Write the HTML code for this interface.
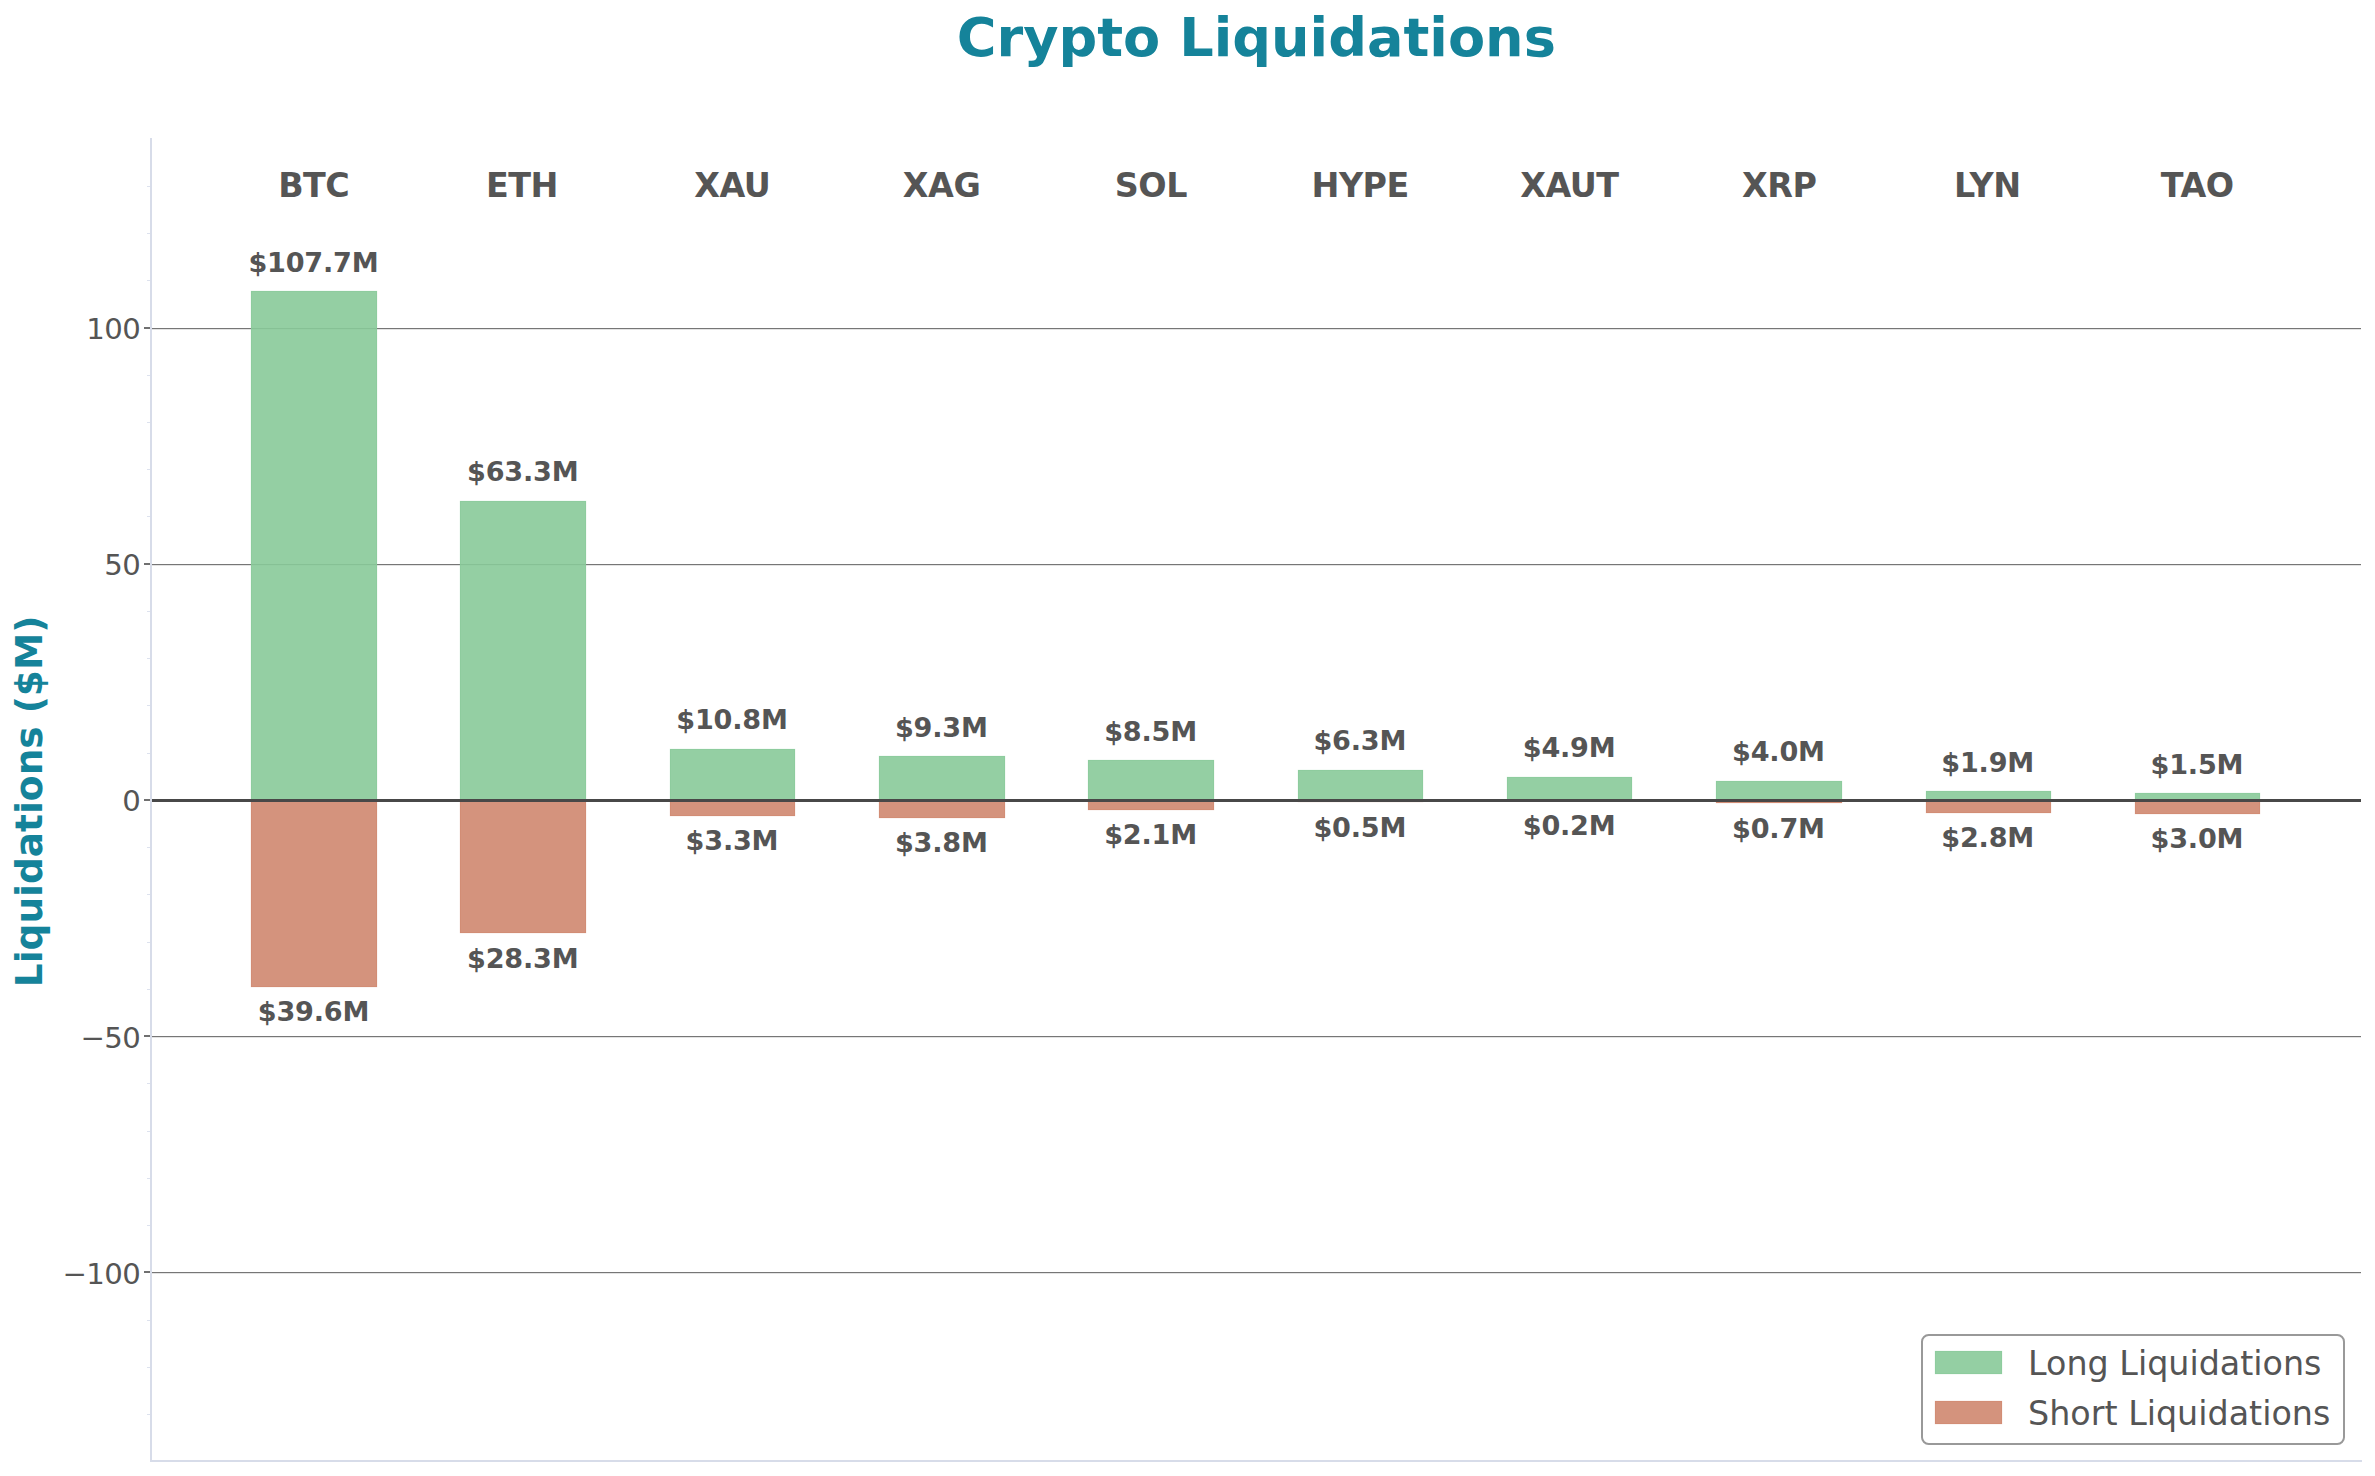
<!DOCTYPE html>
<html lang="en"><head><meta charset="utf-8"><title>Crypto Liquidations</title>
<style>html,body{margin:0;padding:0;background:#fff}body{width:2375px;height:1476px;overflow:hidden}svg{display:block}text{font-family:"DejaVu Sans","Liberation Sans",sans-serif}</style>
</head><body>
<svg width="2375" height="1476" viewBox="0 0 2375 1476">
<rect width="2375" height="1476" fill="#ffffff"/>
<g fill="#767676">
<rect x="151" y="328" width="2210" height="1.2"/>
<rect x="151" y="564" width="2210" height="1.2"/>
<rect x="151" y="1036" width="2210" height="1.2"/>
<rect x="151" y="1272" width="2210" height="1.2"/>
</g>
<g fill="#88ca99" fill-opacity="0.9">
<rect x="251" y="291" width="126" height="509"/>
<rect x="460" y="501" width="126" height="299"/>
<rect x="670" y="749" width="125" height="51"/>
<rect x="879" y="756" width="126" height="44"/>
<rect x="1088" y="760" width="126" height="40"/>
<rect x="1298" y="770" width="125" height="30"/>
<rect x="1507" y="777" width="125" height="23"/>
<rect x="1716" y="781" width="126" height="19"/>
<rect x="1926" y="791" width="125" height="9"/>
<rect x="2135" y="793" width="125" height="7"/>
</g>
<g fill="#cf876f" fill-opacity="0.9">
<rect x="251" y="800" width="126" height="187"/>
<rect x="460" y="800" width="126" height="133"/>
<rect x="670" y="800" width="125" height="16"/>
<rect x="879" y="800" width="126" height="18"/>
<rect x="1088" y="800" width="126" height="10"/>
<rect x="1298" y="800" width="125" height="2"/>
<rect x="1507" y="800" width="125" height="1"/>
<rect x="1716" y="800" width="126" height="3"/>
<rect x="1926" y="800" width="125" height="13"/>
<rect x="2135" y="800" width="125" height="14"/>
</g>
<g fill="none" stroke-width="1" stroke-opacity="0.55">
<rect x="251.35" y="291.35" width="125.30" height="508.30" stroke="#88ca99"/>
<rect x="460.35" y="501.35" width="125.30" height="298.30" stroke="#88ca99"/>
<rect x="670.35" y="749.35" width="124.30" height="50.30" stroke="#88ca99"/>
<rect x="879.35" y="756.35" width="125.30" height="43.30" stroke="#88ca99"/>
<rect x="1088.35" y="760.35" width="125.30" height="39.30" stroke="#88ca99"/>
<rect x="1298.35" y="770.35" width="124.30" height="29.30" stroke="#88ca99"/>
<rect x="1507.35" y="777.35" width="124.30" height="22.30" stroke="#88ca99"/>
<rect x="1716.35" y="781.35" width="125.30" height="18.30" stroke="#88ca99"/>
<rect x="1926.35" y="791.35" width="124.30" height="8.30" stroke="#88ca99"/>
<rect x="2135.35" y="793.35" width="124.30" height="6.30" stroke="#88ca99"/>
<rect x="251.35" y="800.35" width="125.30" height="186.30" stroke="#cf876f"/>
<rect x="460.35" y="800.35" width="125.30" height="132.30" stroke="#cf876f"/>
<rect x="670.35" y="800.35" width="124.30" height="15.30" stroke="#cf876f"/>
<rect x="879.35" y="800.35" width="125.30" height="17.30" stroke="#cf876f"/>
<rect x="1088.35" y="800.35" width="125.30" height="9.30" stroke="#cf876f"/>
<rect x="1298.35" y="800.35" width="124.30" height="1.30" stroke="#cf876f"/>
<rect x="1716.35" y="800.35" width="125.30" height="2.30" stroke="#cf876f"/>
<rect x="1926.35" y="800.35" width="124.30" height="12.30" stroke="#cf876f"/>
<rect x="2135.35" y="800.35" width="124.30" height="13.30" stroke="#cf876f"/>
</g>
<rect x="151" y="799" width="2210" height="3" fill="#484848"/>
<g fill="#dde2ee">
<rect x="147" y="1414" width="3" height="1"/>
<rect x="147" y="1367" width="3" height="1"/>
<rect x="147" y="1320" width="3" height="1"/>
<rect x="147" y="1225" width="3" height="1"/>
<rect x="147" y="1178" width="3" height="1"/>
<rect x="147" y="1131" width="3" height="1"/>
<rect x="147" y="1083" width="3" height="1"/>
<rect x="147" y="989" width="3" height="1"/>
<rect x="147" y="942" width="3" height="1"/>
<rect x="147" y="894" width="3" height="1"/>
<rect x="147" y="847" width="3" height="1"/>
<rect x="147" y="753" width="3" height="1"/>
<rect x="147" y="705" width="3" height="1"/>
<rect x="147" y="658" width="3" height="1"/>
<rect x="147" y="611" width="3" height="1"/>
<rect x="147" y="516" width="3" height="1"/>
<rect x="147" y="469" width="3" height="1"/>
<rect x="147" y="422" width="3" height="1"/>
<rect x="147" y="375" width="3" height="1"/>
<rect x="147" y="280" width="3" height="1"/>
<rect x="147" y="233" width="3" height="1"/>
<rect x="147" y="186" width="3" height="1"/>
</g>
<g fill="#707070">
<rect x="144" y="327" width="6.5" height="2"/>
<rect x="144" y="563" width="6.5" height="2"/>
<rect x="144" y="799" width="6.5" height="2"/>
<rect x="144" y="1035" width="6.5" height="2"/>
<rect x="144" y="1271" width="6.5" height="2"/>
</g>
<g fill="#d7dce9">
<rect x="150" y="138" width="2" height="1324"/>
<rect x="150" y="1460" width="2212" height="2"/>
</g>
<g fill="#555555" font-size="29.17" text-anchor="end" letter-spacing="-0.56">
<text x="140.3" y="339.00">100</text>
<text x="140.3" y="575.00">50</text>
<text x="140.3" y="811.00">0</text>
<text x="140.3" y="1048.00">−50</text>
<text x="140.3" y="1284.00">−100</text>
</g>
<text x="1256.3" y="56.2" fill="#15839a" font-size="54.17" font-weight="bold" text-anchor="middle">Crypto Liquidations</text>
<text transform="translate(42,801.4) rotate(-90)" fill="#15839a" font-size="37.5" font-weight="bold" text-anchor="middle">Liquidations ($M)</text>
<g fill="#555555" font-size="33.33" font-weight="bold" text-anchor="middle" letter-spacing="-0.47">
<text x="313.74" y="197">BTC</text>
<text x="522.02" y="197">ETH</text>
<text x="732.30" y="197">XAU</text>
<text x="941.58" y="197">XAG</text>
<text x="1150.86" y="197">SOL</text>
<text x="1360.14" y="197">HYPE</text>
<text x="1569.42" y="197">XAUT</text>
<text x="1779.20" y="197">XRP</text>
<text x="1987.28" y="197">LYN</text>
<text x="2197.26" y="197">TAO</text>
</g>
<g fill="#555555" font-size="27.08" font-weight="bold" text-anchor="middle" letter-spacing="-0.2">
<text x="313.44" y="272">$107.7M</text>
<text x="522.72" y="481">$63.3M</text>
<text x="732.00" y="729">$10.8M</text>
<text x="941.28" y="737">$9.3M</text>
<text x="1150.56" y="741">$8.5M</text>
<text x="1359.84" y="750">$6.3M</text>
<text x="1569.12" y="757">$4.9M</text>
<text x="1778.40" y="761">$4.0M</text>
<text x="1987.68" y="772">$1.9M</text>
<text x="2196.96" y="774">$1.5M</text>
<text x="313.44" y="1021">$39.6M</text>
<text x="522.72" y="968">$28.3M</text>
<text x="732.00" y="850">$3.3M</text>
<text x="941.28" y="852">$3.8M</text>
<text x="1150.56" y="844">$2.1M</text>
<text x="1359.84" y="837">$0.5M</text>
<text x="1569.12" y="835">$0.2M</text>
<text x="1778.40" y="838">$0.7M</text>
<text x="1987.68" y="847">$2.8M</text>
<text x="2196.96" y="848">$3.0M</text>
</g>
<rect x="1922" y="1335" width="422" height="109" rx="6.67" ry="6.67" fill="#ffffff" stroke="#999999" stroke-width="2"/>
<rect x="1935" y="1351" width="67" height="23" fill="#88ca99" fill-opacity="0.9"/>
<rect x="1935.35" y="1351.35" width="66.3" height="22.3" fill="none" stroke="#88ca99" stroke-width="1" stroke-opacity="0.55"/>
<rect x="1935" y="1401" width="67" height="23" fill="#cf876f" fill-opacity="0.9"/>
<rect x="1935.35" y="1401.35" width="66.3" height="22.3" fill="none" stroke="#cf876f" stroke-width="1" stroke-opacity="0.55"/>
<g fill="#555555" font-size="33.33">
<text x="2028.1" y="1375.2">Long Liquidations</text>
<text x="2028.1" y="1425.3">Short Liquidations</text>
</g>
</svg>
</body></html>
